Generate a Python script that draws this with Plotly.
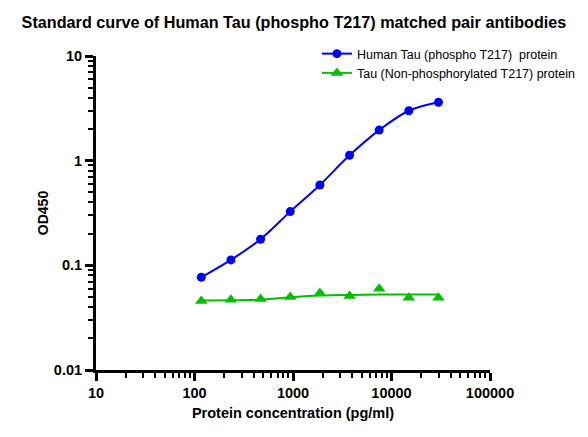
import plotly.graph_objects as go

conc = [117.2, 234.4, 468.8, 937.5, 1875, 3750, 7500, 15000, 30000]
od_phospho = [0.0769, 0.1127, 0.1775, 0.326, 0.586, 1.126, 1.96, 3.0, 3.61]
od_nonphospho = [0.0457, 0.0468, 0.0478, 0.0499, 0.0545, 0.0510, 0.0596, 0.0489, 0.0489]
fit_nonphospho = [0.0461, 0.0463, 0.0470, 0.0495, 0.0515, 0.0522, 0.0525, 0.0525, 0.0525]

name1 = "Human Tau (phospho T217)\u00a0 protein"
name2 = "Tau (Non-phosphorylated T217) protein"

BLUE = "#0000ff"
GREEN = "#00c000"
FONT = "Liberation Sans"

fig = go.Figure()
fig.add_trace(go.Scatter(x=conc, y=od_phospho, mode="lines+markers", name=name1,
                         line=dict(color=BLUE, width=2, shape="spline"),
                         marker=dict(symbol="circle", size=9, color=BLUE)))
fig.add_trace(go.Scatter(x=conc, y=fit_nonphospho, mode="lines", showlegend=False,
                         line=dict(color=GREEN, width=2, shape="spline"), hoverinfo="skip"))
fig.add_trace(go.Scatter(x=conc, y=od_nonphospho, mode="markers", showlegend=False,
                         marker=dict(symbol="triangle-up", size=11, color=GREEN)))
# legend entry for the non-phosphorylated series (line + marker)
fig.add_trace(go.Scatter(x=[None], y=[None], mode="lines+markers", name=name2,
                         line=dict(color=GREEN, width=2),
                         marker=dict(symbol="triangle-up", size=11, color=GREEN)))

tickfont = dict(family=FONT, size=14.5, color="black", weight="bold")
axis_common = dict(type="log", showgrid=False, zeroline=False, showline=True,
                   linecolor="black", linewidth=3, ticks="outside", ticklen=8,
                   tickwidth=2.5, tickcolor="black", dtick=1,
                   tickfont=tickfont, automargin=False,
                   minor=dict(ticks="outside", ticklen=5, tickwidth=2, tickcolor="black",
                              dtick="D1", showgrid=False))

fig.update_layout(
    width=588, height=437,
    margin=dict(l=96, r=98, t=56, b=67, autoexpand=False),
    paper_bgcolor="white", plot_bgcolor="white",
    title=dict(text="<b>Standard curve of Human Tau (phospho T217) matched pair antibodies</b>",
               x=0.5, xanchor="center", y=1 - 22/437, yanchor="middle",
               font=dict(family=FONT, size=16.2, color="black")),
    font=dict(family=FONT, color="black"),
    xaxis=dict(axis_common, range=[1, 5],
               tickvals=[10, 100, 1000, 10000, 100000],
               ticktext=["10", "100", "1000", "10000", "100000"],
               title=dict(text="<b>Protein concentration (pg/ml)</b>",
                          font=dict(family=FONT, size=14.5, color="black"), standoff=8)),
    yaxis=dict(axis_common, range=[-2, 1],
               tickvals=[0.01, 0.1, 1, 10], ticktext=["0.01", "0.1", "1", "10"],
               title=dict(text="<b>OD450</b>",
                          font=dict(family=FONT, size=14, color="black"), standoff=2)),
    legend=dict(xref="container", yref="container", x=0.539, y=1 - 39/437,
                xanchor="left", yanchor="top", bgcolor="rgba(0,0,0,0)",
                font=dict(family=FONT, size=12.5, color="black"),
                tracegroupgap=2),
)

fig.write_html("out.html")
